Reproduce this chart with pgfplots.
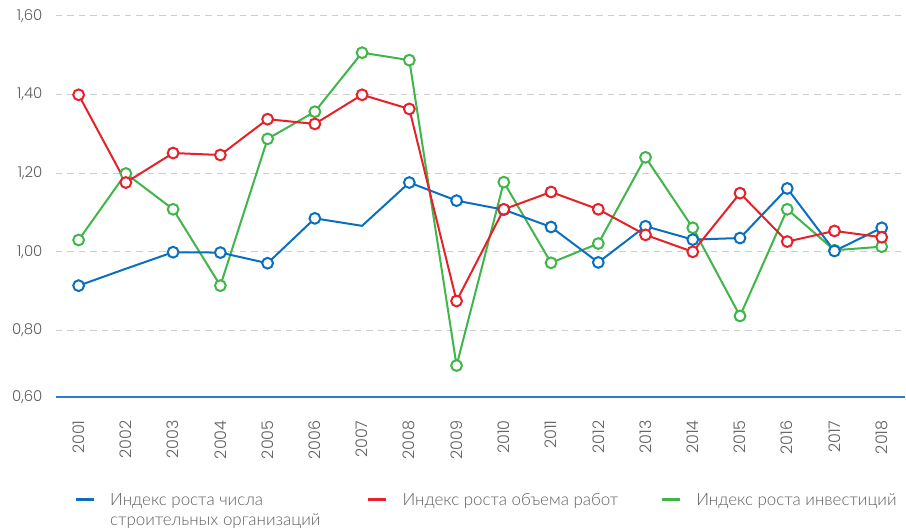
\documentclass[border=0pt]{standalone}
\usepackage{pgfplots}
\pgfplotsset{compat=1.18}
\usepackage{fontspec}
\setmainfont{Lato Light}
\newfontfamily\numfont{Poppins Light}
\definecolor{sblue}{HTML}{0A6FBE}
\definecolor{sred}{HTML}{E62129}
\definecolor{sgreen}{HTML}{40B54A}
\definecolor{axisblue}{HTML}{2F7DC4}
\definecolor{gridgray}{HTML}{CDCDCD}
\definecolor{labelgray}{HTML}{5F5F5F}
\begin{document}
\begin{tikzpicture}
\path (-56bp,-130.7bp) rectangle (850bp,397.3bp);
\begin{axis}[
  at={(0,0)}, anchor=south west, scale only axis,
  width=850bp, height=381.6bp,
  xmin=2000.52, xmax=2018.5, ymin=0.631, ymax=1.6,
  axis lines*=left,
  y axis line style={draw=none},
  x axis line style={draw=axisblue, line width=1.3bp},
  major tick length=0pt,
  xtick={2001,...,2018},
  ytick={0.631,0.8,1.0,1.2,1.4,1.6},
  yticklabels={{0,60},{0,80},{1,00},{1,20},{1,40},{1,60}},
  ymajorgrids,
  grid style={color=gridgray, line width=1.2bp, dash pattern=on 6.5bp off 5bp},
  /pgf/number format/1000 sep={},
  /pgf/number format/assume math mode=true,
  ticklabel style={text=labelgray},
  x tick label style={font=\numfont\fontsize{16}{18}\selectfont, rotate=90, anchor=east, xshift=-20bp},
  y tick label style={font=\numfont\fontsize{15}{18}\selectfont, anchor=east, xshift=-10bp},
  clip=false,
  every axis plot/.append style={line width=2bp, mark=*, mark size=5.4bp, mark options={fill=white, line width=2bp}},
  legend columns=3,
  legend style={draw=none, fill=none, inner sep=0pt, outer sep=0pt,
    at={(0.0212,-0.247)}, anchor=north west,
    font=\fontsize{17}{21}\selectfont, text=labelgray,
    cells={anchor=base west},
    nodes={inner sep=0pt},
    /tikz/every odd column/.append style={column sep=15bp},
    /tikz/column 2/.append style={column sep=46bp},
    /tikz/column 4/.append style={column sep=42bp}},
  legend image code/.code={\draw[#1, mark=none, line width=3.2bp] (0bp,6.5bp) -- (18bp,6.5bp);},
]
\addplot[sgreen, forget plot] coordinates {
(2001,1.030) (2002,1.199) (2003,1.108) (2004,0.914) (2005,1.287) (2006,1.356)
(2007,1.506) (2008,1.487) (2009,0.711) (2010,1.177) (2011,0.972) (2012,1.021)
(2013,1.240) (2014,1.061) (2015,0.837) (2016,1.108) (2017,1.004) (2018,1.013)};
\addplot[sblue, forget plot, mark indices={1,3,4,5,6,8,9,10,11,12,13,14,15,16,17,18}] coordinates {
(2001,0.914) (2002,0.957) (2003,0.999) (2004,0.998) (2005,0.971) (2006,1.085)
(2007,1.066) (2008,1.176) (2009,1.130) (2010,1.107) (2011,1.063) (2012,0.973)
(2013,1.065) (2014,1.031) (2015,1.035) (2016,1.161) (2017,1.002) (2018,1.061)};
\addplot[sred, forget plot] coordinates {
(2001,1.399) (2002,1.176) (2003,1.251) (2004,1.246) (2005,1.337) (2006,1.325)
(2007,1.399) (2008,1.363) (2009,0.875) (2010,1.108) (2011,1.152) (2012,1.108)
(2013,1.043) (2014,1.000) (2015,1.149) (2016,1.026) (2017,1.053) (2018,1.037)};
\addlegendimage{sblue}
\addlegendentry{\begin{tabular}[t]{@{}l@{}}Индекс роста числа\\[-1bp]строительных организаций\end{tabular}}
\addlegendimage{sred}
\addlegendentry{Индекс роста объема работ}
\addlegendimage{sgreen}
\addlegendentry{Индекс роста инвестиций}
\end{axis}
\end{tikzpicture}
\end{document}
